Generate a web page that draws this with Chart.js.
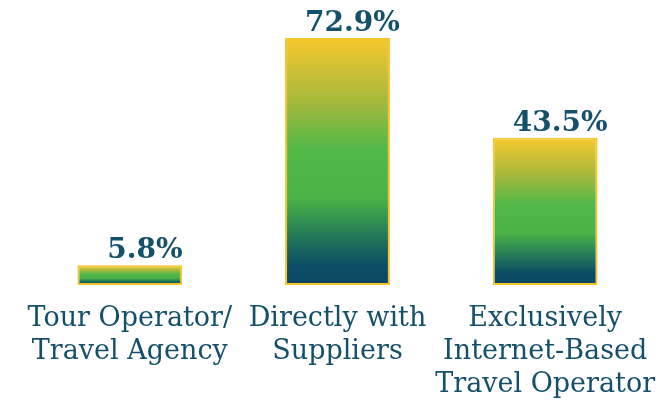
<!DOCTYPE html>
<html>
<head>
<meta charset="utf-8">
<script src="https://cdn.jsdelivr.net/npm/chart.js@4/dist/chart.umd.min.js"></script>
<style>
  html, body { margin: 0; padding: 0; background: #fff; }
  #wrap { width: 672px; height: 405px; }
</style>
</head>
<body>
<div id="wrap"><canvas id="chart" width="672" height="405"></canvas></div>
<script>
// data
const categories = [
    ['Tour Operator/', 'Travel Agency'],
    ['Directly with', 'Suppliers'],
    ['Exclusively', 'Internet-Based', 'Travel Operator']
];
const shares = [5.8, 72.9, 43.5];
const valueLabels = ['5.8%', '72.9%', '43.5%'];

const textColor = '#15506b';
const fontFamily = '"DejaVu Serif", "Liberation Serif", serif';

// gradient per bar: yellow top, green middle, dark teal bottom
function barGradient(context) {
    const chart = context.chart;
    if (!chart.chartArea || context.dataIndex === undefined) return '#4db848';
    const yScale = chart.scales.y;
    const top = yScale.getPixelForValue(shares[context.dataIndex]);
    const bottom = yScale.getPixelForValue(0);
    const g = chart.ctx.createLinearGradient(0, top, 0, bottom);
    g.addColorStop(0, '#f6c82e');
    g.addColorStop(0.25, '#a9b83c');
    g.addColorStop(0.45, '#52b848');
    g.addColorStop(0.65, '#4bb247');
    g.addColorStop(0.8, '#237a58');
    g.addColorStop(0.92, '#0c4d66');
    g.addColorStop(1, '#0b4765');
    return g;
}

// value labels above bars
const valueLabelPlugin = {
    id: 'valueLabels',
    afterDatasetsDraw(chart) {
        const ctx = chart.ctx;
        const meta = chart.getDatasetMeta(0);
        ctx.save();
        ctx.fillStyle = textColor;
        ctx.font = 'bold 28px ' + fontFamily;
        ctx.textAlign = 'center';
        ctx.textBaseline = 'alphabetic';
        meta.data.forEach((bar, i) => {
            ctx.fillText(valueLabels[i], bar.x + 15, bar.y - 7);
        });
        ctx.restore();
    }
};

new Chart(document.getElementById('chart'), {
    type: 'bar',
    data: {
        labels: categories,
        datasets: [{
            data: shares,
            backgroundColor: barGradient,
            borderColor: '#f5c52c',
            borderWidth: 2,
            borderSkipped: false,
            barPercentage: 0.505,
            categoryPercentage: 1.0
        }]
    },
    options: {
        responsive: false,
        animation: false,
        layout: { padding: { left: 26, right: 23, top: 14, bottom: 4 } },
        plugins: {
            legend: { display: false },
            tooltip: { enabled: false }
        },
        scales: {
            x: {
                grid: { display: false },
                border: { display: false },
                ticks: {
                    color: textColor,
                    font: { family: fontFamily, size: 27, lineHeight: 1.23 },
                    padding: 9,
                    maxRotation: 0,
                    autoSkip: false
                },
                afterFit(scale) {
                    scale.height = 116;
                    scale.paddingLeft = 0;
                    scale.paddingRight = 0;
                }
            },
            y: {
                display: false,
                min: 0,
                max: 80
            }
        }
    },
    plugins: [valueLabelPlugin]
});
</script>
</body>
</html>
